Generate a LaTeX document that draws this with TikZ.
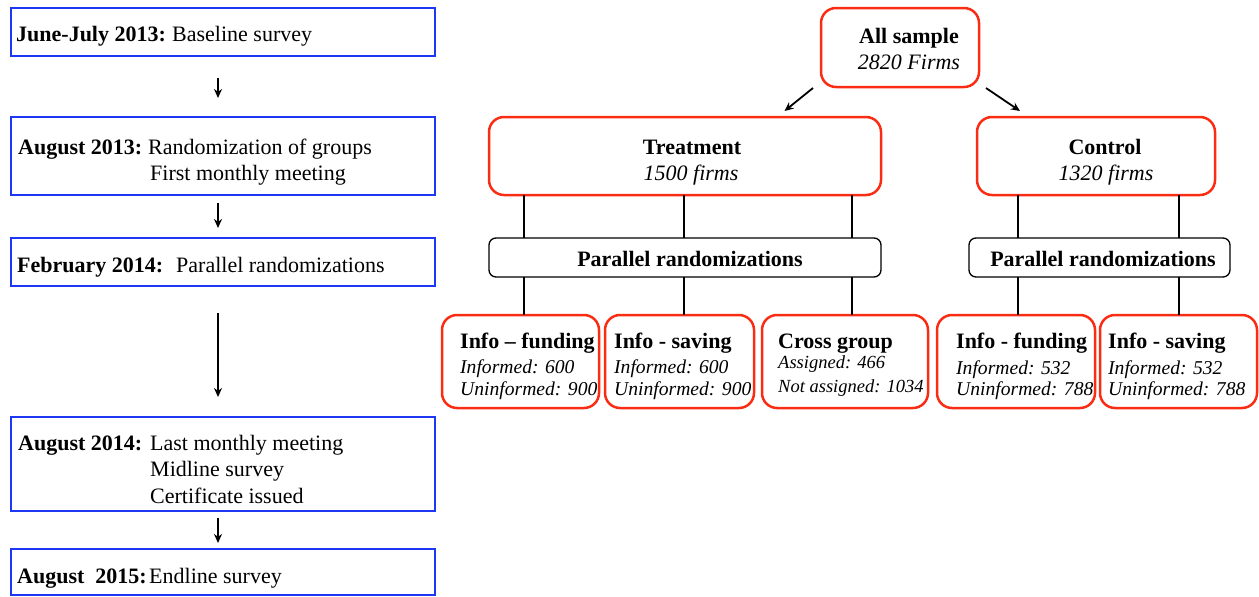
\documentclass[tikz,border=0pt]{standalone}
\usepackage{fontspec}
\setmainfont{Liberation Serif}
\usetikzlibrary{arrows.meta}
\definecolor{tlblue}{RGB}{30,55,245}
\definecolor{grpred}{RGB}{250,45,20}
\begin{document}
\begin{tikzpicture}[x=1pt,y=-1pt,
  tlbox/.style={draw=tlblue, line width=2.5pt, inner sep=0pt, outer sep=0pt},
  grpbox/.style={draw=grpred, line width=2.5pt, rounded corners=15pt, inner sep=0pt, outer sep=0pt},
  parbox/.style={draw=black, line width=1.3pt, rounded corners=7pt, inner sep=0pt, outer sep=0pt},
  txt/.style={anchor=base west, inner sep=0pt, font=\fontsize{22}{26}\selectfont},
  ctxt/.style={anchor=base, inner sep=0pt, font=\fontsize{22}{26}\selectfont},
  itxt/.style={anchor=base west, inner sep=0pt, font=\fontsize{19.6}{24}\selectfont\itshape},
  stxt/.style={anchor=base west, inner sep=0pt, font=\fontsize{18.5}{22}\selectfont\itshape},
  arr/.style={line width=1.8pt, -{Stealth[length=9pt,width=8pt]}},
  conn/.style={line width=1.8pt}
]
\useasboundingbox (0,0) rectangle (1259,597);

% ---------- timeline ----------
\node[tlbox, minimum width=424pt, minimum height=48pt] (t1) at (223,32) {};
\node[tlbox, minimum width=424pt, minimum height=78pt] (t2) at (223,156) {};
\node[tlbox, minimum width=424pt, minimum height=48pt] (t3) at (223,262) {};
\node[tlbox, minimum width=424pt, minimum height=94pt] (t4) at (223,464) {};
\node[tlbox, minimum width=424pt, minimum height=46pt] (t5) at (223,572) {};

\node[txt] (t1a) at (16,41) {\textbf{June-July 2013:}};
\node[txt] (t1b) at (172,41) {Baseline survey};
\node[txt] (t2a) at (18,154) {\textbf{August 2013:}};
\node[txt] (t2b) at (148,154) {Randomization of groups};
\node[txt] (t2c) at (150,180) {First monthly meeting};
\node[txt] (t3a) at (17,272) {\textbf{February 2014:}};
\node[txt] (t3b) at (176,272) {Parallel randomizations};
\node[txt] (t4a) at (18,450) {\textbf{August 2014:}};
\node[txt] (t4b) at (150,450) {Last monthly meeting};
\node[txt] (t4c) at (150,476) {Midline survey};
\node[txt] (t4d) at (150,503) {Certificate issued};
\node[txt] (t5a) at (17,583) {\textbf{August\ \ 2015:}};
\node[txt] (t5b) at (149,583) {Endline survey};

\draw[arr] ([xshift=-5pt,yshift=-22pt]t1.south) -- ([xshift=-5pt,yshift=19pt]t2.north);
\draw[arr] ([xshift=-5pt,yshift=-8pt]t2.south) -- ([xshift=-5pt,yshift=10pt]t3.north);
\draw[arr] ([xshift=-5pt,yshift=-27pt]t3.south) -- ([xshift=-5pt,yshift=20pt]t4.north);
\draw[arr] ([xshift=-5pt,yshift=-7pt]t4.south) -- ([xshift=-5pt,yshift=6pt]t5.north);

% ---------- design tree ----------
\node[grpbox, minimum width=158pt, minimum height=79pt] (all) at (900,47.5) {};
\node[ctxt] (alla) at (909,43) {\textbf{All sample}};
\node[ctxt] (allb) at (909,69) {\textit{2820 Firms}};

\node[grpbox, minimum width=392pt, minimum height=78pt] (treat) at (685,156) {};
\node[ctxt] (treata) at (692,154) {\textbf{Treatment}};
\node[ctxt] (treatb) at (691,180) {\textit{1500 firms}};

\node[grpbox, minimum width=238pt, minimum height=78pt] (ctrl) at (1096,156) {};
\node[ctxt] (ctrla) at (1105,154) {\textbf{Control}};
\node[ctxt] (ctrlb) at (1106,180) {\textit{1320 firms}};

\draw[arr] ([xshift=-8pt,yshift=-1pt]all.south west) -- ([xshift=99.5pt,yshift=6pt]treat.north);
\draw[arr] ([xshift=7pt,yshift=-1pt]all.south east) -- ([xshift=-76pt,yshift=6pt]ctrl.north);

\node[parbox, minimum width=392pt, minimum height=39pt] (par1) at (685,257.5) {};
\node[ctxt] (par1t) at (690,266) {\textbf{Parallel randomizations}};
\node[parbox, minimum width=261pt, minimum height=39pt] (par2) at (1099.5,257.5) {};
\node[ctxt] (par2t) at (1103,266) {\textbf{Parallel randomizations}};

\node[grpbox, minimum width=157pt, minimum height=93pt] (b1) at (520.5,361.5) {};
\node[grpbox, minimum width=149pt, minimum height=93pt] (b2) at (679.5,361.5) {};
\node[grpbox, minimum width=166pt, minimum height=93pt] (b3) at (845,361.5) {};
\node[grpbox, minimum width=158pt, minimum height=93pt] (b4) at (1016,361.5) {};
\node[grpbox, minimum width=157pt, minimum height=93pt] (b5) at (1178.5,361.5) {};

\coordinate (c1) at (524,0);
\coordinate (c2) at (684,0);
\coordinate (c3) at (852,0);
\coordinate (c4) at (1018,0);
\coordinate (c5) at (1179,0);

\draw[conn] (treat.south -| c1) -- (par1.north -| c1);
\draw[conn] (treat.south -| c2) -- (par1.north -| c2);
\draw[conn] (treat.south -| c3) -- (par1.north -| c3);
\draw[conn] (par1.south -| c1) -- (b1.north -| c1);
\draw[conn] (par1.south -| c2) -- (b2.north -| c2);
\draw[conn] (par1.south -| c3) -- (b3.north -| c3);
\draw[conn] (ctrl.south -| c4) -- (par2.north -| c4);
\draw[conn] (ctrl.south -| c5) -- (par2.north -| c5);
\draw[conn] (par2.south -| c4) -- (b4.north -| c4);
\draw[conn] (par2.south -| c5) -- (b5.north -| c5);

\node[txt] (b1a) at (460,348) {\textbf{Info – funding}};
\node[itxt] (b1b) at (460,373) {Informed: 600};
\node[itxt] (b1c) at (460,395) {Uninformed: 900};

\node[txt] (b2a) at (614,348) {\textbf{Info - saving}};
\node[itxt] (b2b) at (614,373) {Informed: 600};
\node[itxt] (b2c) at (614,395) {Uninformed: 900};

\node[txt] (b3a) at (778,348) {\textbf{Cross group}};
\node[stxt] (b3b) at (778,368) {Assigned: 466};
\node[stxt] (b3c) at (778,392) {Not assigned: 1034};

\node[txt] (b4a) at (956,348) {\textbf{Info - funding}};
\node[itxt] (b4b) at (956,374) {Informed: 532};
\node[itxt] (b4c) at (956,395) {Uninformed: 788};

\node[txt] (b5a) at (1108,348) {\textbf{Info - saving}};
\node[itxt] (b5b) at (1108,374) {Informed: 532};
\node[itxt] (b5c) at (1108,395) {Uninformed: 788};
\end{tikzpicture}
\end{document}
